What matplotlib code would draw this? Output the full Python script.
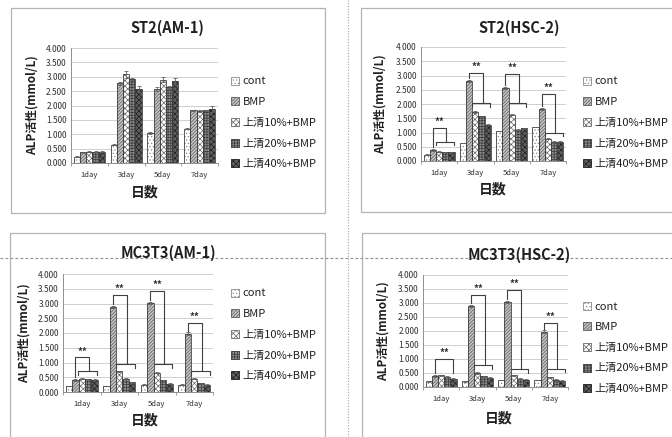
import numpy as np
import matplotlib
matplotlib.use('Agg')
import matplotlib.pyplot as plt
from matplotlib.patches import Rectangle, Patch
from matplotlib.lines import Line2D

plt.rcParams['font.family'] = ['Noto Sans CJK JP', 'DejaVu Sans']
plt.rcParams['hatch.linewidth'] = 0.5

days = ['1day', '3day', '5day', '7day']
groups = ['cont', 'BMP', '上清10%+BMP', '上清20%+BMP', '上清40%+BMP']

# values per group, one row per group, one column per day
st2_am1 = [[0.22, 0.63, 1.05, 1.20],
           [0.38, 2.78, 2.57, 1.83],
           [0.40, 3.08, 2.90, 1.82],
           [0.40, 2.92, 2.63, 1.83],
           [0.40, 2.57, 2.85, 1.87]]
st2_am1_err = [[0.02, 0.02, 0.03, 0.02],
               [0.02, 0.05, 0.07, 0.03],
               [0.02, 0.12, 0.08, 0.03],
               [0.02, 0.05, 0.05, 0.03],
               [0.02, 0.10, 0.12, 0.10]]
st2_hsc2 = [[0.22, 0.63, 1.05, 1.20],
            [0.38, 2.80, 2.55, 1.82],
            [0.33, 1.72, 1.62, 0.78],
            [0.30, 1.57, 1.10, 0.68],
            [0.30, 1.28, 1.15, 0.68]]
mc_am1 = [[0.20, 0.20, 0.25, 0.25],
          [0.40, 2.88, 3.02, 1.98],
          [0.45, 0.70, 0.65, 0.45],
          [0.43, 0.45, 0.40, 0.30],
          [0.42, 0.33, 0.28, 0.25]]
mc_hsc2 = [[0.20, 0.20, 0.25, 0.25],
           [0.38, 2.90, 3.03, 1.98],
           [0.42, 0.50, 0.42, 0.35],
           [0.37, 0.38, 0.30, 0.25],
           [0.30, 0.33, 0.25, 0.22]]
small_err = [[0.01] * 4, [0.04] * 4, [0.02] * 4, [0.02] * 4, [0.02] * 4]

# significance brackets: (top of upper bracket, level of lower bracket) per day
br_st2_hsc2 = [(1.17, 0.68), (3.10, 2.02), (3.05, 2.02), (2.35, 1.00)]
br_mc_am1 = [(1.17, 0.70), (3.30, 0.96), (3.43, 0.96), (2.33, 0.70)]
br_mc_hsc2 = [(1.00, None), (3.30, 0.78), (3.46, 0.63), (2.30, 0.66)]

styles = [dict(fc='white', hc='#8a8a8a', hatch='.....'),
          dict(fc='#c4c4c4', hc='#5a5a5a', hatch='//////////'),
          dict(fc='white', hc='#6a6a6a', hatch='xxxxxx'),
          dict(fc='#8c8c8c', hc='#3a3a3a', hatch='++++++'),
          dict(fc='#5e5e5e', hc='#1e1e1e', hatch='xxxxxx')]

W, H = 672, 437
fig = plt.figure(figsize=(W / 100, H / 100), dpi=100)


def fx(x):
    return x / W


def fy(y):
    return 1 - y / H


def panel_box(l, t, r, b):
    fig.add_artist(Rectangle((fx(l), fy(b)), fx(r) - fx(l), fy(t) - fy(b),
                             transform=fig.transFigure, fill=True, fc='white',
                             ec='#b4b4b4', lw=0.9, zorder=0))


# panel frames and separators
panel_box(11, 8, 325, 213)
panel_box(361, 8, 700, 212)
panel_box(10, 233, 325, 460)
panel_box(362, 233, 700, 460)
fig.add_artist(Line2D([fx(348), fx(348)], [0, 1], transform=fig.transFigure,
                      color='#a0a0a0', lw=0.8, ls=(0, (1, 1.5)), zorder=1))
fig.add_artist(Line2D([0, 1], [fy(258), fy(258)], transform=fig.transFigure,
                      color='#909090', lw=0.8, ls=(0, (2.5, 2)), zorder=1))

bw = 0.17
offs = (np.arange(5) - 2) * bw


def bracket(ax, d, top, low, vals):
    xb = d + offs[1]
    if low is None:
        xr = d + offs[4]
        ax.plot([xb, xb, xr, xr], [0.5, top, top, 0.5], color='#404040', lw=0.8)
        xm = (xb + xr) / 2
    else:
        xl0, xl1 = d + offs[2] - 0.09, d + offs[4] + 0.07
        xr = d + offs[3] + 0.03
        ax.plot([xl0, xl0, xl1, xl1], [low - 0.13, low, low, low - 0.13], color='#404040', lw=0.8)
        ax.plot([xb, xb, xr, xr], [vals[1] + 0.1, top, top, low], color='#404040', lw=0.8)
        xm = (xb + xr) / 2
    ax.text(xm, top + 0.03, '**', ha='center', va='bottom', fontsize=7,
            fontweight='bold', color='#303030')


def draw(rect, title, vals, errs, brs, title_xy, leg_xy, xlab_xy, ylab_x):
    l, t, r, b = rect
    ax = fig.add_axes([fx(l), fy(b), fx(r) - fx(l), fy(t) - fy(b)])
    ax.set_zorder(2)
    ax.patch.set_alpha(0)
    for i in range(5):
        st = styles[i]
        x = np.arange(4) + offs[i]
        ax.bar(x, vals[i], bw, color=st['fc'], edgecolor=st['hc'], hatch=st['hatch'], lw=0, zorder=3)
        ax.bar(x, vals[i], bw, fill=False, edgecolor='#404040', lw=0.6, zorder=4)
        ax.errorbar(x, vals[i], yerr=errs[i], fmt='none', ecolor='#606060', elinewidth=0.6,
                    capsize=1.3, capthick=0.6, zorder=5)
    if brs is not None:
        for d, (top, low) in enumerate(brs):
            bracket(ax, d, top, low, [v[d] for v in vals])
    ax.set_ylim(0, 4)
    ax.set_xlim(-0.5, 3.5)
    ax.set_yticks(np.arange(0, 4.01, 0.5))
    ax.set_yticklabels([f'{v:.3f}' for v in np.arange(0, 4.01, 0.5)], fontsize=6, color='#303030')
    ax.set_xticks(range(4))
    ax.set_xticklabels(days, fontsize=5.5, color='#303030')
    ax.set_xticks(np.arange(-0.5, 3.6, 1), minor=True)
    ax.tick_params(axis='x', which='major', length=0, pad=6)
    ax.tick_params(axis='x', which='minor', length=2.5, color='#909090', width=0.6)
    ax.tick_params(axis='y', length=0, pad=3)
    ax.grid(axis='y', color='#cfcfcf', lw=0.7, zorder=0)
    ax.set_axisbelow(True)
    for s in ['top', 'right']:
        ax.spines[s].set_visible(False)
    for s in ['left', 'bottom']:
        ax.spines[s].set_color('#909090')
        ax.spines[s].set_linewidth(0.7)
    fig.text(fx(title_xy[0]), fy(title_xy[1]), title, ha='center', va='center',
             fontsize=10.5, fontweight='bold', color='#202020', zorder=6)
    fig.text(fx(xlab_xy[0]), fy(xlab_xy[1]), '日数', ha='center', va='center',
             fontsize=10, fontweight='bold', color='#202020')
    fig.text(fx(ylab_x), fy((t + b) / 2), 'ALP活性(mmol/L)', ha='center', va='center',
             rotation=90, fontsize=8.5, fontweight='bold', color='#202020')
    handles = [Patch(facecolor=st['fc'], edgecolor=st['hc'], hatch=st['hatch'], lw=0.6)
               for st in styles]
    fig.legend(handles, groups, loc='upper left', bbox_to_anchor=(fx(leg_xy[0]), fy(leg_xy[1])),
               frameon=False, fontsize=8, handlelength=0.75, handleheight=0.75,
               handletextpad=0.3, labelspacing=0.96, borderpad=0, borderaxespad=0,
               labelcolor='#202020')
    return ax


draw((71, 48, 218, 163), 'ST2(AM-1)', st2_am1, st2_am1_err, None,
     (167, 28), (231, 76.5), (145, 193), 32)
draw((421, 47, 566, 161), 'ST2(HSC-2)', st2_hsc2, small_err, br_st2_hsc2,
     (519, 28), (583, 76.5), (493, 190), 380)
draw((63, 274, 213, 392), 'MC3T3(AM-1)', mc_am1, small_err, br_mc_am1,
     (168, 253), (231, 288.5), (145, 421), 24)
draw((423, 275, 568, 387), 'MC3T3(HSC-2)', mc_hsc2, small_err, br_mc_hsc2,
     (519, 255), (583, 301.5), (499, 418), 383)

fig.savefig('out.png', dpi=100)
